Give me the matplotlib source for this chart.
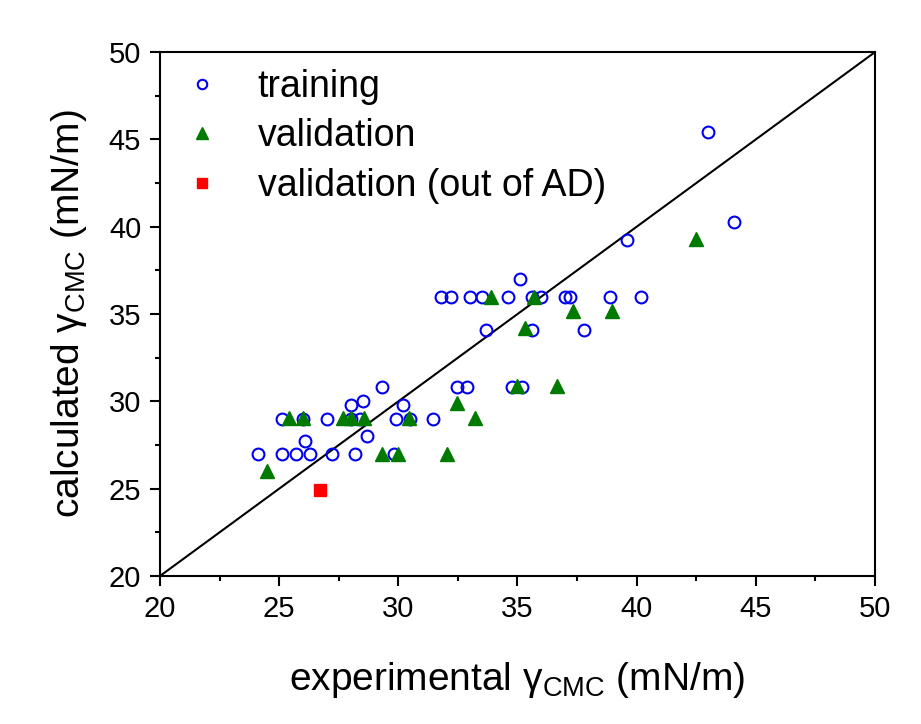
import matplotlib
matplotlib.use('Agg')
from matplotlib import pyplot as plt
from matplotlib.ticker import MultipleLocator

plt.rcParams['font.family'] = ['Liberation Sans', 'DejaVu Sans']
plt.rcParams['mathtext.fontset'] = 'custom'
plt.rcParams['mathtext.rm'] = 'Liberation Sans'

# training set (experimental, calculated)
train_x = [24.1, 25.1, 25.7, 26.3, 27.2, 28.2, 29.8,
           25.1, 26.0, 27.0, 28.0, 28.4, 29.9, 30.5, 31.45,
           26.1, 28.7, 28.0, 28.5, 30.2, 29.3, 32.45, 32.9, 34.75, 35.2,
           33.7, 35.6, 37.8,
           31.8, 32.2, 33.0, 33.5, 34.6, 35.6, 36.0, 37.0, 37.2, 38.9, 40.2,
           35.1, 39.6, 43.0, 44.1]
train_y = [27.0, 27.0, 27.0, 27.0, 27.0, 27.0, 27.0,
           29.0, 29.0, 29.0, 29.0, 29.0, 29.0, 29.0, 29.0,
           27.75, 28.0, 29.8, 30.0, 29.8, 30.85, 30.85, 30.85, 30.85, 30.85,
           34.1, 34.1, 34.1,
           36.0, 36.0, 36.0, 36.0, 36.0, 36.0, 36.0, 36.0, 36.0, 36.0, 36.0,
           37.0, 39.25, 45.4, 40.25]

# validation set
val_x = [24.5, 25.4, 26.0, 27.7, 28.0, 28.55, 30.45, 29.3, 30.0, 32.05,
         32.45, 33.2, 33.9, 35.7, 37.35, 38.95, 35.3, 35.0, 36.65, 42.5]
val_y = [26.0, 29.05, 29.05, 29.05, 29.05, 29.05, 29.05, 27.0, 27.0, 27.0,
         29.9, 29.05, 36.0, 36.0, 35.2, 35.2, 34.2, 30.9, 30.9, 39.3]

# validation, out of applicability domain
out_x = [26.7]
out_y = [24.9]

fig = plt.figure(figsize=(9.21, 7.24), dpi=100)
ax = fig.add_axes([0.1737, 0.2044, 0.7763, 0.7236])

ax.plot([20, 50], [20, 50], color='black', lw=1.5, zorder=1)
ax.plot(train_x, train_y, 'o', mfc='none', mec='#0000ee', mew=1.5, ms=8.5,
        ls='none', label='training', zorder=2)
ax.plot(val_x, val_y, '^', color='#007a00', ms=10, ls='none',
        label='validation', zorder=3)
ax.plot(out_x, out_y, 's', color='#ff0000', ms=8.5, ls='none',
        label='validation (out of AD)', zorder=4)

ax.set_xlim(20, 50)
ax.set_ylim(20, 50)
ax.xaxis.set_major_locator(MultipleLocator(5))
ax.yaxis.set_major_locator(MultipleLocator(5))
ax.xaxis.set_minor_locator(MultipleLocator(2.5))
ax.yaxis.set_minor_locator(MultipleLocator(2.5))
ax.tick_params(which='major', direction='out', length=7.5, width=1.5,
               labelsize=21, pad=6)
ax.tick_params(which='minor', direction='out', length=3.5, width=1.5)
for s in ax.spines.values():
    s.set_linewidth(1.5)

ax.set_xlabel(r'experimental γ$_{\mathrm{CMC}}$ (mN/m)', fontsize=28, labelpad=27)
ax.set_ylabel(r'calculated γ$_{\mathrm{CMC}}$ (mN/m)', fontsize=28, labelpad=14)

ax.legend(loc='upper left', frameon=False, fontsize=27, handlelength=1.0,
          handletextpad=1.0, borderpad=0, borderaxespad=0, labelspacing=0.36,
          markerscale=0.8, bbox_to_anchor=(0.032, 0.968))

fig.savefig('out.png', dpi=100)
